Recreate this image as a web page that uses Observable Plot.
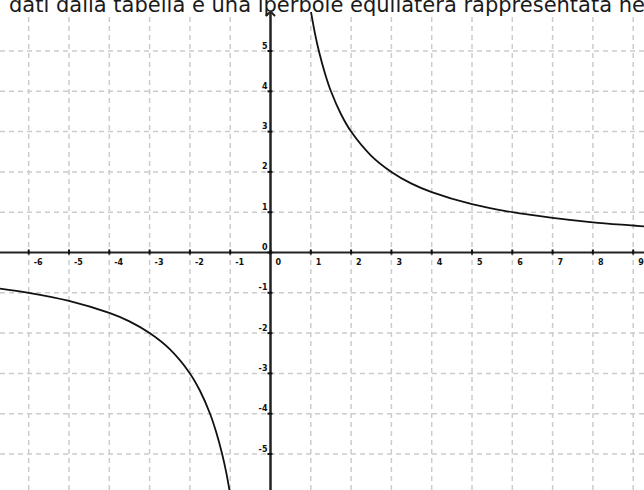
<!DOCTYPE html>
<html>
<head>
<meta charset="utf-8">
<script src="https://cdn.jsdelivr.net/npm/d3@7"></script>
<script src="https://cdn.jsdelivr.net/npm/@observablehq/plot@0.6"></script>
<style>
  html, body { margin: 0; padding: 0; background: #fff; }
  #wrap { position: relative; width: 644px; height: 490px; overflow: hidden; background: #fff; }
  #title { position: absolute; left: 9px; top: -7px; white-space: nowrap; font-family: "DejaVu Sans", Verdana, sans-serif; font-size: 21px; line-height: 24px; color: #1a1a1a; z-index: 2; }
  #chart { position: absolute; left: 0; top: 0; }
  #titlebg { position: absolute; left: 0; top: 0; width: 644px; height: 12px; background: #fff; z-index: 1; }
</style>
</head>
<body>
<div id="wrap">
  <div id="chart"></div>
  <div id="titlebg"></div>
  <div id="title">dati dalla tabella è una iperbole equilatera rappresentata nel grafico</div>
</div>
<script>
// Tick labels
const xTicks = [-6, -5, -4, -3, -2, -1, 0, 1, 2, 3, 4, 5, 6, 7, 8, 9];
const yTicks = [-5, -4, -3, -2, -1, 0, 1, 2, 3, 4, 5];
const xGrid = [-6, -5, -4, -3, -2, -1, 1, 2, 3, 4, 5, 6, 7, 8, 9];
const yGrid = [-5, -4, -3, -2, -1, 1, 2, 3, 4, 5];

// Hyperbola branches, values
const posX = [1, 1.1, 1.2, 1.35, 1.5, 1.75, 2, 2.5, 3, 3.5, 4, 5, 6, 7, 8, 9, 9.5];
const posY = [6, 5.45, 5, 4.45, 4, 3.43, 3, 2.4, 2, 1.71, 1.5, 1.2, 1, 0.86, 0.75, 0.67, 0.63];
const negX = [-7, -6, -5, -4, -3.5, -3, -2.5, -2, -1.75, -1.5, -1.35, -1.2, -1.1, -1];
const negY = [-0.86, -1, -1.2, -1.5, -1.71, -2, -2.4, -3, -3.43, -4, -4.45, -5, -5.45, -6];

const W = 644, H = 490;
const unit = 40.3, x0px = 270, y0px = 252;
const xDomain = [-x0px / unit, (W - x0px) / unit];
const yDomain = [-(H - y0px) / unit, y0px / unit];
const gridTop = (y0px - 13) / unit;
const tickHalf = 2.5 / unit;

const pos = posX.map((x, i) => ({x, y: posY[i]}));
const neg = negX.map((x, i) => ({x, y: negY[i]}));

const labelFont = {fontSize: 8, fontWeight: "bold", fontFamily: "DejaVu Sans, Verdana, sans-serif", fill: "#111"};

let chart;
try {
chart = Plot.plot({
  width: W,
  height: H,
  margin: 0,
  x: {domain: xDomain, axis: null},
  y: {domain: yDomain, axis: null},
  marks: [
    Plot.ruleX(xGrid, {x: d => d, y1: yDomain[0], y2: gridTop, stroke: "#cccccc", strokeWidth: 1.5, strokeDasharray: "5,4"}),
    Plot.ruleY(yGrid, {y: d => d, stroke: "#cccccc", strokeWidth: 1.5, strokeDasharray: "5,4"}),
    Plot.ruleY([0], {y: d => d, stroke: "#222", strokeWidth: 2}),
    Plot.ruleX([0], {x: d => d, y1: yDomain[0], y2: gridTop, stroke: "#222", strokeWidth: 2}),
    Plot.link([0], {x1: 0, x2: 0, y1: yDomain[0], y2: gridTop, stroke: "#222", strokeWidth: 2, markerEnd: "arrow"}),
    Plot.ruleX(xTicks, {x: d => d, y1: -tickHalf, y2: tickHalf, stroke: "#111", strokeWidth: 2}),
    Plot.ruleY(yTicks, {y: d => d, x1: -tickHalf, x2: tickHalf, stroke: "#111", strokeWidth: 2}),
    Plot.line(pos, {x: "x", y: "y", curve: "catmull-rom", stroke: "#111", strokeWidth: 1.8, clip: true}),
    Plot.line(neg, {x: "x", y: "y", curve: "catmull-rom", stroke: "#111", strokeWidth: 1.8, clip: true}),
    Plot.text(xTicks, {x: d => d, y: 0, text: d => String(d), textAnchor: "start", dx: 5, dy: 10, ...labelFont}),
    Plot.text(yTicks, {x: 0, y: d => d, text: d => String(d), textAnchor: "end", dx: -3, dy: -5, ...labelFont})
  ]
});
} catch (e) {
  chart = document.createElement("pre");
  chart.textContent = String(e);
}
document.getElementById("chart").appendChild(chart);
</script>
</body>
</html>
